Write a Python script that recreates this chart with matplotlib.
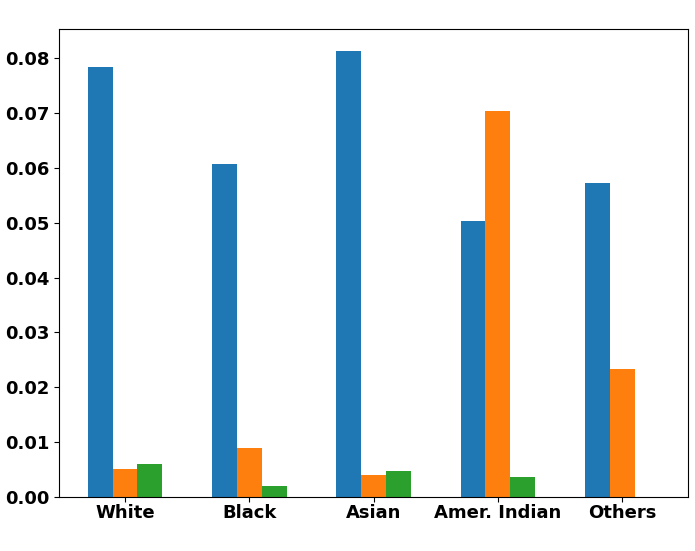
import numpy as np
import matplotlib
matplotlib.use("Agg")
import matplotlib.pyplot as plt

# valores
groups = ["White", "Black", "Asian", "Amer. Indian", "Others"]
serie_1 = [0.0783, 0.0607, 0.0812, 0.0503, 0.0572]
serie_2 = [0.0051, 0.0089, 0.0040, 0.0703, 0.0233]
serie_3 = [0.0060, 0.0020, 0.0047, 0.0036, 0.0]

plt.rcParams['font.weight'] = 'bold'
plt.rcParams['font.size'] = 13

fig, ax = plt.subplots(figsize=(6.95, 5.51), dpi=100)
x = np.arange(len(groups))
w = 0.2
ax.bar(x - w, serie_1, w, color='#1f77b4')
ax.bar(x, serie_2, w, color='#ff7f0e')
ax.bar(x + w, serie_3, w, color='#2ca02c')

ax.set_xticks(x)
ax.set_xticklabels(groups, fontweight='bold')
ax.tick_params(axis='both', labelsize=13)
ax.tick_params(axis='x', pad=1.5)
for lbl in ax.get_yticklabels():
    lbl.set_fontweight('bold')

fig.subplots_adjust(left=0.085, right=0.99, top=0.947, bottom=0.098)
fig.savefig("out.png")
